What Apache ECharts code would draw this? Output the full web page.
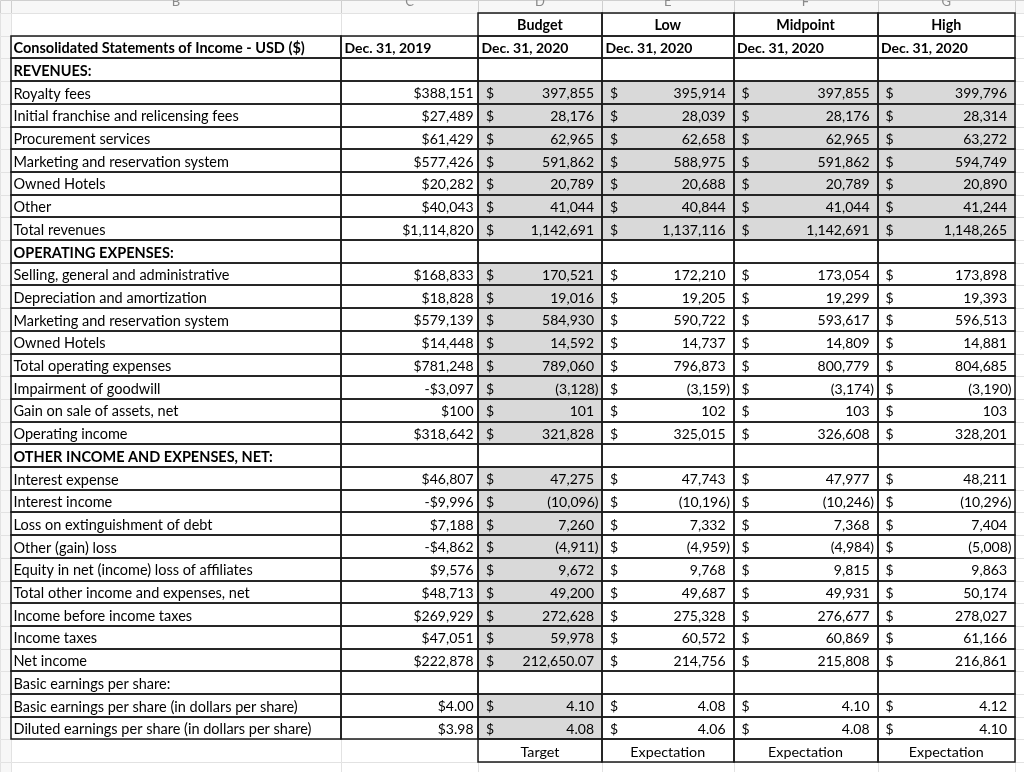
<!DOCTYPE html>
<html><head><meta charset="utf-8">
<script src="https://cdn.jsdelivr.net/npm/echarts@6/dist/echarts.min.js"></script>
<style>html,body{margin:0;padding:0;background:#fff}#c{width:1024px;height:772px}</style>
</head><body><div id="c"></div>
<script>
// ---------------- data ----------------
const columnLetters = ["B", "C", "D", "E", "F", "G"];
const scenarioNames = ["Budget", "Low", "Midpoint", "High"];
const tableTitle = "Consolidated Statements of Income - USD ($)";
const periodLabels = ["Dec. 31, 2019", "Dec. 31, 2020", "Dec. 31, 2020", "Dec. 31, 2020", "Dec. 31, 2020"];
const footerLabels = ["Target", "Expectation", "Expectation", "Expectation"];
const lineItems = [
  "REVENUES:", "Royalty fees", "Initial franchise and relicensing fees", "Procurement services",
  "Marketing and reservation system", "Owned Hotels", "Other", "Total revenues",
  "OPERATING EXPENSES:", "Selling, general and administrative", "Depreciation and amortization",
  "Marketing and reservation system", "Owned Hotels", "Total operating expenses", "Impairment of goodwill",
  "Gain on sale of assets, net", "Operating income",
  "OTHER INCOME AND EXPENSES, NET:", "Interest expense", "Interest income", "Loss on extinguishment of debt",
  "Other (gain) loss", "Equity in net (income) loss of affiliates", "Total other income and expenses, net",
  "Income before income taxes", "Income taxes", "Net income",
  "Basic earnings per share:", "Basic earnings per share (in dollars per share)",
  "Diluted earnings per share (in dollars per share)"
];
const actual2019 = [null, 388151, 27489, 61429, 577426, 20282, 40043, 1114820,
  null, 168833, 18828, 579139, 14448, 781248, -3097, 100, 318642,
  null, 46807, -9996, 7188, -4862, 9576, 48713, 269929, 47051, 222878,
  null, 4.00, 3.98];
const budget2020 = [null, 397855, 28176, 62965, 591862, 20789, 41044, 1142691,
  null, 170521, 19016, 584930, 14592, 789060, -3128, 101, 321828,
  null, 47275, -10096, 7260, -4911, 9672, 49200, 272628, 59978, 212650.07,
  null, 4.10, 4.08];
const low2020 = [null, 395914, 28039, 62658, 588975, 20688, 40844, 1137116,
  null, 172210, 19205, 590722, 14737, 796873, -3159, 102, 325015,
  null, 47743, -10196, 7332, -4959, 9768, 49687, 275328, 60572, 214756,
  null, 4.08, 4.06];
const mid2020 = [null, 397855, 28176, 62965, 591862, 20789, 41044, 1142691,
  null, 173054, 19299, 593617, 14809, 800779, -3174, 103, 326608,
  null, 47977, -10246, 7368, -4984, 9815, 49931, 276677, 60869, 215808,
  null, 4.10, 4.08];
const high2020 = [null, 399796, 28314, 63272, 594749, 20890, 41244, 1148265,
  null, 173898, 19393, 596513, 14881, 804685, -3190, 103, 328201,
  null, 48211, -10296, 7404, -5008, 9863, 50174, 278027, 61166, 216861,
  null, 4.12, 4.10];

// ---------------- layout ----------------
const COL_EDGES = [0, 11, 341, 478, 602, 733.5, 877.5, 1015, 1024]; // row-number col, B..G, H
const ROW_PX = 22.7, TOP_PX = 13, H_PX = 772;
const Y_MIN = -TOP_PX / ROW_PX, Y_MAX = Y_MIN + H_PX / ROW_PX;
const FONT = "Lato, 'Open Sans', sans-serif";
const GREY = "#d9d9d9";

// ---------------- build cells ----------------
const cells = [];
function add(c, r, o) { cells.push(Object.assign({ c: c, r: r }, o)); }
scenarioNames.forEach((s, i) => add(3 + i, 0, { text: s, kind: "center", bold: true, border: true }));
add(1, 1, { text: tableTitle, kind: "left", bold: true, border: true });
periodLabels.forEach((p, i) => add(2 + i, 1, { text: p, kind: "left", bold: true, border: true }));
const projections = [budget2020, low2020, mid2020, high2020];
let section = "";
lineItems.forEach((label, i) => {
  const r = i + 2;
  const isHead = actual2019[i] === null;
  if (isHead) section = label;
  const bold = isHead && label === label.toUpperCase();
  const dec = /per share \(/.test(label) ? 2 : null;
  add(1, r, { text: label, kind: "left", bold: bold, border: true });
  add(2, r, { value: actual2019[i], kind: "money", dec: dec, border: true });
  projections.forEach((arr, k) => {
    const v = arr[i];
    const shaded = v !== null && (k === 0 || section === "REVENUES:");
    add(3 + k, r, { value: v, kind: "acct", dec: dec, border: true, fill: shaded ? GREY : null });
  });
});
const footRow = lineItems.length + 2;
footerLabels.forEach((f, i) => add(3 + i, footRow, { text: f, kind: "center", border: true }));

const sheet = [];
for (let r = -1; r <= footRow + 1; r++) for (let c = 0; c < COL_EDGES.length - 1; c++) sheet.push([c, r]);

function fmtNum(v, dec) {
  const d = dec !== null && dec !== undefined ? dec : (Number.isInteger(v) ? 0 : 2);
  return Math.abs(v).toLocaleString("en-US", { minimumFractionDigits: d, maximumFractionDigits: d });
}
function box(api, c, r) {
  const top = r < 0 ? Y_MIN : r;
  const bot = r < 0 ? 0 : r + 1;
  const p0 = api.coord([COL_EDGES[c], top]);
  const p1 = api.coord([COL_EDGES[c + 1], bot]);
  return { x0: p0[0], y0: p0[1], x1: p1[0], y1: p1[1] };
}
function crisp(v) { return Math.round(v) + 0.5; }
function txt(x, y, text, align, bold, color, size) {
  return { type: "text", x: x, y: y, style: {
    text: text, align: align, verticalAlign: "middle",
    font: (bold ? "bold " : "") + (size || 14) + "px " + FONT, fill: color || "#000" } };
}

const option = {
  animation: false,
  grid: { left: 0, right: 0, top: 0, bottom: 0 },
  xAxis: { type: "value", min: 0, max: COL_EDGES[COL_EDGES.length - 1], show: false },
  yAxis: { type: "value", inverse: true, min: Y_MIN, max: Y_MAX, show: false },
  series: [
    {
      type: "custom", z: 1, silent: true, clip: false, data: sheet,
      renderItem: function (params, api) {
        const c = api.value(0), r = api.value(1);
        const b = box(api, c, r);
        const headerish = c === 0 || r < 0;
        const ch = [{ type: "rect", shape: { x: crisp(b.x0), y: crisp(b.y0), width: Math.round(b.x1) - Math.round(b.x0), height: Math.round(b.y1) - Math.round(b.y0) },
          style: { fill: headerish ? "#f7f7f7" : "#fff", stroke: r < 0 ? "#cfcfcf" : "#e2e2e2", lineWidth: 1 } }];
        if (r < 0 && c >= 1 && c <= columnLetters.length) {
          ch.push(txt((b.x0 + b.x1) / 2, b.y0 + 2, columnLetters[c - 1], "center", false, "#8a8a8a", 13));
        }
        return { type: "group", children: ch };
      }
    },
    {
      type: "custom", z: 2, silent: true, clip: false, data: cells.map((d, i) => [d.c, d.r, i]),
      renderItem: function (params, api) {
        const d = cells[api.value(2)];
        if (!d.fill) return { type: "group", children: [] };
        const b = box(api, d.c, d.r);
        return { type: "rect", shape: { x: b.x0, y: b.y0, width: b.x1 - b.x0, height: b.y1 - b.y0 }, style: { fill: d.fill } };
      }
    },
    {
      type: "custom", z: 3, silent: true, clip: false, data: cells.map((d, i) => [d.c, d.r, i]),
      renderItem: function (params, api) {
        const d = cells[api.value(2)];
        if (!d.border) return { type: "group", children: [] };
        const b = box(api, d.c, d.r);
        return { type: "rect", shape: { x: Math.round(b.x0), y: Math.round(b.y0), width: Math.round(b.x1) - Math.round(b.x0), height: Math.round(b.y1) - Math.round(b.y0) },
          style: { fill: null, stroke: "#1a1a1a", lineWidth: 1.5 } };
      }
    },
    {
      type: "custom", z: 4, silent: true, clip: false, data: cells.map((d, i) => [d.c, d.r, i]),
      renderItem: function (params, api) {
        const d = cells[api.value(2)];
        const b = box(api, d.c, d.r);
        const yc = (b.y0 + b.y1) / 2 + 1.5;
        const ch = [];
        if (d.kind === "left") ch.push(txt(b.x0 + (d.c === 1 ? 2.5 : 3.5), yc, d.text, "left", d.bold, null, d.c === 1 ? 14.5 : 14));
        else if (d.kind === "center") ch.push(txt((b.x0 + b.x1) / 2, yc, d.text, "center", d.bold, null, 14.3));
        else if (d.kind === "money" && d.value !== null) {
          ch.push(txt(b.x1 - 4.5, yc, (d.value < 0 ? "-$" : "$") + fmtNum(d.value, d.dec), "right", false));
        } else if (d.kind === "acct" && d.value !== null) {
          const neg = d.value < 0;
          ch.push(txt(b.x0 + 8, yc, "$", "left", false));
          ch.push(txt(b.x1 - (neg ? 3.5 : 8), yc, neg ? "(" + fmtNum(d.value, d.dec) + ")" : fmtNum(d.value, d.dec), "right", false));
        }
        return { type: "group", children: ch };
      }
    }
  ]
};
const chart = echarts.init(document.getElementById("c"), null, { renderer: "canvas" });
chart.setOption(option);
</script>
</body></html>
